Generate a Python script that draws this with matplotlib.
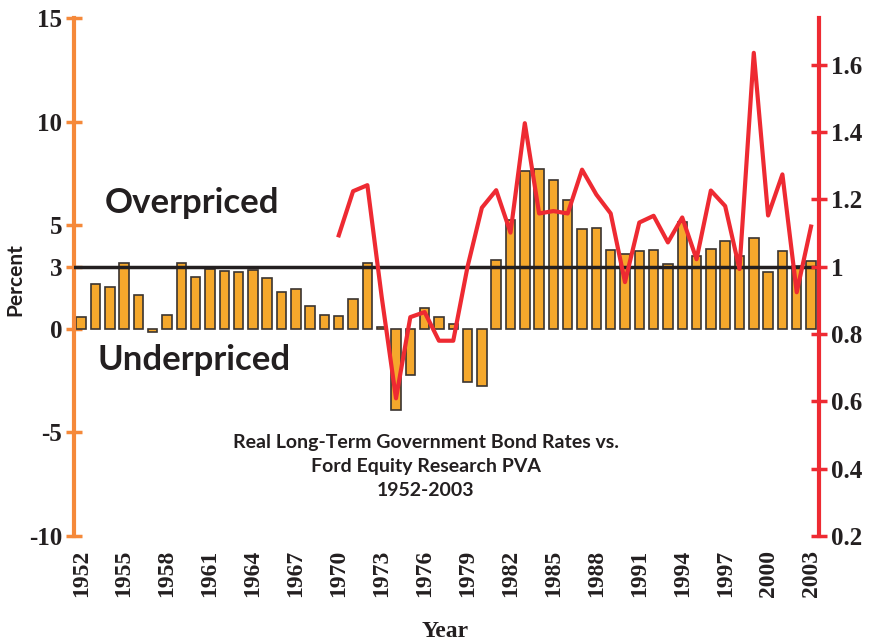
import matplotlib
matplotlib.use("Agg")
import matplotlib.pyplot as plt

years = list(range(1952, 2004))
bond_rates = [0.56, 2.17, 2.03, 3.2, 1.61, -0.15, 0.69, 3.17, 2.48, 2.88,
              2.81, 2.76, 2.83, 2.44, 1.77, 1.94, 1.08, 0.68, 0.64, 1.43,
              3.19, 0.08, -3.94, -2.21, 0.99, 0.59, 0.22, -2.56, -2.75, 3.33,
              5.27, 7.64, 7.72, 7.19, 6.22, 4.81, 4.86, 3.78, 3.62, 3.75,
              3.81, 3.14, 5.16, 3.52, 3.84, 4.23, 3.49, 4.36, 2.72, 3.76,
              3.05, 3.28]
pva_years = list(range(1970, 2004))
pva = [1.093, 1.224, 1.242, 0.91, 0.609, 0.85, 0.865, 0.78, 0.78, 1.0,
       1.175, 1.227, 1.101, 1.426, 1.158, 1.165, 1.158, 1.288, 1.214, 1.158,
       0.954, 1.131, 1.151, 1.072, 1.146, 1.022, 1.226, 1.18, 0.993, 1.635,
       1.152, 1.274, 0.924, 1.119]
left_ticks = [15, 10, 5, 3, 0, -5, -10]
right_ticks = [1.6, 1.4, 1.2, 1, 0.8, 0.6, 0.4, 0.2]
right_labels = ["1.6", "1.4", "1.2", "1", "0.8", "0.6", "0.4", "0.2"]
x_ticks = list(range(1952, 2004, 3))
reference_level = 3

ORANGE = "#f5893a"
BAR = "#f5a82c"
RED = "#ee2a32"
INK = "#231f20"
serif = "Liberation Serif"
sans = "Lato"

fig = plt.figure(figsize=(8.81, 6.43), dpi=100)
ax = fig.add_axes([0.084, 0.1664, 0.846, 0.8056])

ax.bar(years, bond_rates, width=0.66, color=BAR, edgecolor="#3a3430",
       linewidth=1.2, zorder=2)
ax.axhline(reference_level, color=INK, lw=2.5, zorder=3)

ax.set_xlim(1951.5, 2003.58)
ax.set_ylim(-10, 15)
ax.set_yticks(left_ticks)
ax.set_yticklabels([str(t) for t in left_ticks], fontfamily=serif,
                   fontweight="bold", fontsize=18, color=INK)
ax.set_xticks(x_ticks)
ax.set_xticklabels([str(t) for t in x_ticks], rotation=90, fontfamily=serif,
                   fontweight="bold", fontsize=17, color=INK)
ax.tick_params(axis="x", length=0, pad=10)
ax.tick_params(axis="y", direction="inout", length=11, width=2.5,
               color=ORANGE, pad=3)
for s in ["top", "right", "bottom"]:
    ax.spines[s].set_visible(False)
ax.spines["left"].set_color(ORANGE)
ax.spines["left"].set_linewidth(3)
ax.set_facecolor("none")

ax2 = ax.twinx()
ax2.set_position(ax.get_position())
ax2.plot(pva_years, pva, color=RED, lw=3, solid_joinstyle="round", zorder=4)
ax2.set_ylim(0.2, 0.2 + 0.8 * 25 / 13)
ax2.set_yticks(right_ticks)
ax2.set_yticklabels(right_labels, fontfamily=serif, fontweight="bold",
                    fontsize=18, color=INK)
ax2.tick_params(axis="y", direction="inout", length=11, width=2.5,
                color=RED, pad=3)
for s in ["top", "left", "bottom"]:
    ax2.spines[s].set_visible(False)
ax2.spines["right"].set_color(RED)
ax2.spines["right"].set_linewidth(3)

fig.text(0.119, 0.685, "Overpriced", fontfamily=sans, fontweight="bold",
         fontsize=25, color=INK, va="center", ha="left")
fig.text(0.111, 0.44, "Underpriced", fontfamily=sans, fontweight="bold",
         fontsize=25, color=INK, va="center", ha="left")
fig.text(0.483, 0.274, "Real Long-Term Government Bond Rates vs.\nFord Equity Research PVA\n1952-2003",
         fontfamily=sans, fontweight="bold", fontsize=14, color=INK,
         ha="center", va="center", linespacing=1.5)
fig.text(0.017, 0.565, "Percent", rotation=90, fontfamily=sans,
         fontweight="bold", fontsize=15, color=INK, ha="center", va="center")
fig.text(0.505, 0.018, "Year", fontfamily=serif, fontweight="bold",
         fontsize=17, color=INK, ha="center", va="center")

fig.savefig("out.png", dpi=100)
